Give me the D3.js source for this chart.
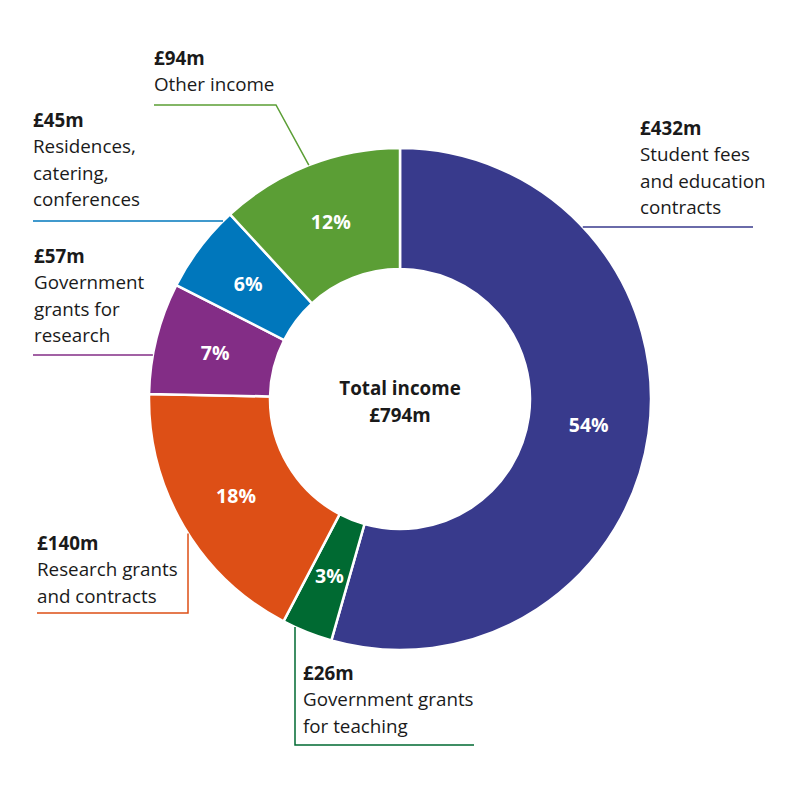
<!DOCTYPE html>
<html>
<head>
<meta charset="utf-8">
<script src="https://cdn.jsdelivr.net/npm/d3@7"></script>
<style>
  html, body { margin: 0; padding: 0; background: #fff; }
  svg text { font-family: "Open Sans", sans-serif; }
</style>
</head>
<body>
<div id="chart"></div>
<script>
const width = 800;
const height = 800;

// data
const categories = [
    "Student fees and education contracts",
    "Government grants for teaching",
    "Research grants and contracts",
    "Government grants for research",
    "Residences, catering, conferences",
    "Other income"
];
const values = [432, 26, 140, 57, 45, 94];
const percents = [54, 3, 18, 7, 6, 12];
const labelLines = [
    ["Student fees", "and education", "contracts"],
    ["Government grants", "for teaching"],
    ["Research grants", "and contracts"],
    ["Government", "grants for", "research"],
    ["Residences,", "catering,", "conferences"],
    ["Other income"]
];
const colors = ["#383a8c", "#006a32", "#dd4f16", "#832d86", "#0077bc", "#5b9e35"];

// layout
const cx = 400, cy = 399;
const outerR = 251, innerR = 130;
const lineH = 26.3;
const fontSize = "18.8px";

// label blocks: text origin + leader shape
const labelLayout = [
    { x: 640, y: 135, leader: { type: "hy", y: 227, side: 1, to: 753 } },
    { x: 303, y: 680, leader: { type: "vx", x: 295, side: 1, down: 745, to: 474 } },
    { x: 37, y: 550, leader: { type: "vx", x: 188, side: 1, down: 613, to: 37 } },
    { x: 34, y: 263, leader: { type: "hy", y: 355, side: -1, to: 33 } },
    { x: 33, y: 127, leader: { type: "hy", y: 221, side: -1, to: 33 } },
    { x: 154, y: 65, leader: { type: "diag", angle: -21.3, elbow: [276, 105], to: 154 } }
];

const svg = d3.select("#chart")
    .append("svg")
    .attr("width", width)
    .attr("height", height);

const g = svg.append("g").attr("transform", `translate(${cx},${cy})`);

const pie = d3.pie().sort(null).value(d => d.value);
const arc = d3.arc().innerRadius(innerR).outerRadius(outerR);

const data = categories.map((c, i) => ({ name: c, value: values[i], pct: percents[i], i }));
const arcs = pie(data);

// slices
g.selectAll("path.slice")
    .data(arcs)
    .enter()
    .append("path")
    .attr("class", "slice")
    .attr("d", arc)
    .attr("fill", d => colors[d.data.i])
    .attr("stroke", "#fff")
    .attr("stroke-width", 2.5)
    .attr("stroke-linejoin", "miter");

// percent labels
g.selectAll("text.pct")
    .data(arcs)
    .enter()
    .append("text")
    .attr("class", "pct")
    .attr("transform", d => `translate(${arc.centroid(d)})`)
    .attr("text-anchor", "middle")
    .attr("dy", "0.36em")
    .attr("fill", "#fff")
    .style("font-weight", "700")
    .style("font-size", "19.5px")
    .text(d => d.data.pct + "%");

// centre text
const total = d3.sum(values);
g.append("text")
    .attr("text-anchor", "middle")
    .attr("y", -4)
    .attr("fill", "#1a1a1a")
    .style("font-weight", "700")
    .style("font-size", fontSize)
    .text("Total income");
g.append("text")
    .attr("text-anchor", "middle")
    .attr("y", 23)
    .attr("fill", "#1a1a1a")
    .style("font-weight", "700")
    .style("font-size", fontSize)
    .text(`£${total}m`);

// leaders
function leaderPoints(L) {
    if (L.type === "hy") {
        const dy = L.y - cy;
        const x = cx + L.side * Math.sqrt(outerR * outerR - dy * dy);
        return [[x, L.y], [L.to, L.y]];
    }
    if (L.type === "vx") {
        const dx = L.x - cx;
        const y = cy + L.side * Math.sqrt(outerR * outerR - dx * dx);
        return [[L.x, y], [L.x, L.down], [L.to, L.down]];
    }
    const a = L.angle * Math.PI / 180;
    const p = [cx + outerR * Math.sin(a), cy - outerR * Math.cos(a)];
    return [p, L.elbow, [L.to, L.elbow[1]]];
}

const line = d3.line();
labelLayout.forEach((lay, i) => {
    svg.append("path")
        .attr("d", line(leaderPoints(lay.leader)))
        .attr("fill", "none")
        .attr("stroke", colors[i])
        .attr("stroke-width", 1.5);

    const t = svg.append("text")
        .attr("x", lay.x)
        .attr("y", lay.y)
        .attr("fill", "#1a1a1a")
        .style("font-size", fontSize);

    t.append("tspan")
        .attr("x", lay.x)
        .style("font-weight", "700")
        .text(`£${values[i]}m`);

    labelLines[i].forEach((s, k) => {
        t.append("tspan")
            .attr("x", lay.x)
            .attr("y", lay.y + (k + 1) * lineH)
            .text(s);
    });
});
</script>
</body>
</html>
